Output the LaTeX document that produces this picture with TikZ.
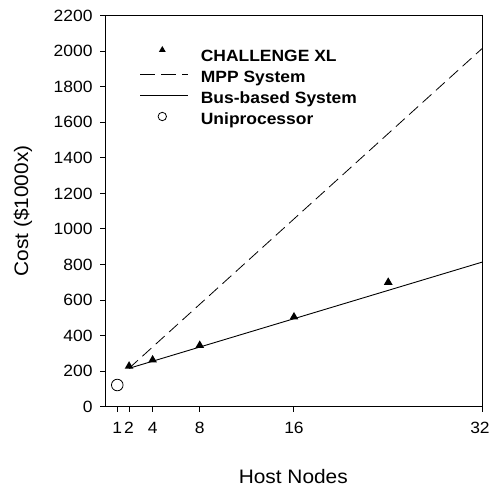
\documentclass[tikz,border=0pt]{standalone}
\usepackage{fontspec}
\setmainfont{Liberation Sans}[FakeStretch=1.07]
\usetikzlibrary{shapes.geometric}
\begin{document}
\begin{tikzpicture}[x=1pt,y=1pt,
  ticklbl/.style={font=\fontsize{16.3}{18}\selectfont, inner sep=0pt},
  axlbl/.style={font=\fontsize{19.5}{22}\selectfont, inner sep=0pt},
  leglbl/.style={font=\bfseries\fontsize{16.3}{18}\selectfont, inner sep=0pt, anchor=base west},
  tri/.style={regular polygon, regular polygon sides=3, fill=black, draw=none, inner sep=0pt, minimum size=10pt},
  legtri/.style={tri, minimum size=8pt},
  unic/.style={circle, draw=black, line width=0.8pt, fill=white, inner sep=0pt, minimum size=11.6pt},
  legcirc/.style={unic, minimum size=8.4pt},
  frameline/.style={line width=1.2pt},
  tickline/.style={line width=1pt},
  busline/.style={line width=0.9pt},
  mppline/.style={line width=0.8pt, dash pattern=on 12pt off 6pt},
  legmpp/.style={line width=0.8pt, dash pattern=on 15pt off 6pt}
]
\useasboundingbox (0,0) rectangle (489,494);

% axis titles
\node[axlbl] (xtitle) at (293.3,17) {Host Nodes};
\node[axlbl, rotate=90] (ytitle) at (23,283) {Cost (\$1000x)};

\begin{scope}[shift={(105.5,87.3)}, x=11.78pt, y=0.17773pt]
  % frame
  \draw[frameline] (0,0) rectangle (32,2200);
  % y ticks
  \foreach \v in {0,200,...,2200} {
    \coordinate (yt\v) at (0,\v);
    \draw[tickline] (yt\v) -- ++(-5.5pt,0);
    \node[ticklbl, anchor=east, xshift=-12.8pt] (yl\v) at (yt\v) {\v};
  }
  % x ticks
  \foreach \n in {1,2,4,8,16} {
    \coordinate (xt\n) at (\n,0);
    \draw[tickline] (xt\n) -- ++(0,-5.5pt);
    \node[ticklbl, yshift=-20.8pt] (xl\n) at (xt\n) {\n};
  }
  \coordinate (xt32) at (32,0);
  \draw[tickline] (xt32) -- ++(0,-5.5pt);
  \node[ticklbl, yshift=-20.8pt, xshift=-2.5pt] (xl32) at (xt32) {32};
  % lines
  \coordinate (p0) at (2,216);
  \coordinate (busend) at (32,814);
  \coordinate (mppend) at (32,2017);
  \draw[mppline] (p0) -- (mppend);
  \draw[busline] (p0) -- (busend);
  % data points
  \node[tri] (c2) at (2,228) {};
  \node[tri] (c4) at (4,263) {};
  \node[tri] (c8) at (8,345) {};
  \node[tri] (c16) at (16,505) {};
  \node[tri] (c24) at (24,700) {};
  \node[unic] (u1) at (1,122) {};
\end{scope}

% legend
\node[legtri] (lt) at (162.3,444) {};
\node[leglbl] (lt1) at (200.7,432.7) {CHALLENGE XL};
\coordinate (lm0) at (140,419.5);
\coordinate (lm1) at (188,419.5);
\draw[legmpp] (lm0) -- (lm1);
\node[leglbl] (lt2) at (200.7,411.7) {MPP System};
\coordinate (lb0) at (140,398.5);
\coordinate (lb1) at (188,398.5);
\draw[busline] (lb0) -- (lb1);
\node[leglbl] (lt3) at (200.7,390.7) {Bus-based System};
\node[legcirc] (lc) at (162.3,377.5) {};
\node[leglbl] (lt4) at (200.7,369.7) {Uniprocessor};
\end{tikzpicture}
\end{document}
